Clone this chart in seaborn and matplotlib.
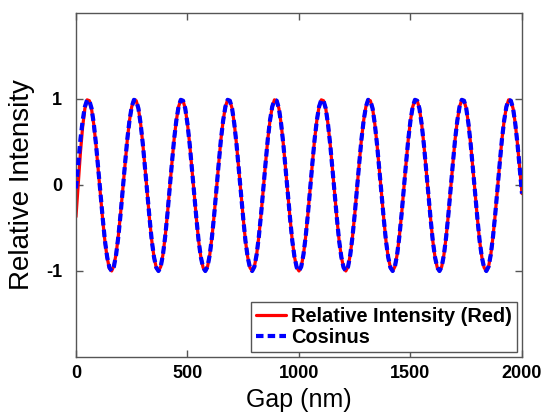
import matplotlib
matplotlib.use("Agg")
import matplotlib.pyplot as plt
import seaborn as sns
import pandas as pd
import numpy as np

# Gap values (nm), sampled every 10 nm
gap_nm = list(range(0, 2001, 10))

# Relative Intensity (Red)
red_intensity = [
    -0.37, 0.00, 0.38, 0.68, 0.89, 0.99, 0.98, 0.88, 0.70, 0.46, 0.17, -0.12, -0.41, -0.66, -0.85, -0.97, -1.00, -0.94, -0.80, -0.59, -0.33,
    -0.05, 0.24, 0.52, 0.75, 0.91, 0.99, 0.98, 0.89, 0.71, 0.47, 0.19, -0.11, -0.40, -0.65, -0.84, -0.96, -1.00, -0.95, -0.81, -0.60, -0.34,
    -0.04, 0.25, 0.53, 0.75, 0.91, 0.99, 0.98, 0.89, 0.71, 0.47, 0.19, -0.10, -0.39, -0.65, -0.84, -0.96, -1.00, -0.95, -0.81, -0.60, -0.34,
    -0.04, 0.25, 0.53, 0.75, 0.91, 0.99, 0.98, 0.89, 0.71, 0.47, 0.19, -0.10, -0.39, -0.65, -0.84, -0.96, -1.00, -0.95, -0.81, -0.60, -0.34,
    -0.04, 0.25, 0.53, 0.75, 0.91, 0.99, 0.98, 0.89, 0.71, 0.47, 0.19, -0.10, -0.39, -0.65, -0.84, -0.96, -1.00, -0.95, -0.81, -0.60, -0.34,
    -0.04, 0.25, 0.53, 0.75, 0.91, 0.99, 0.98, 0.89, 0.71, 0.47, 0.19, -0.10, -0.39, -0.65, -0.84, -0.96, -1.00, -0.95, -0.81, -0.60, -0.34,
    -0.04, 0.25, 0.53, 0.75, 0.91, 0.99, 0.98, 0.89, 0.71, 0.47, 0.19, -0.10, -0.39, -0.65, -0.84, -0.96, -1.00, -0.95, -0.81, -0.60, -0.34,
    -0.04, 0.25, 0.53, 0.75, 0.91, 0.99, 0.98, 0.89, 0.71, 0.47, 0.19, -0.10, -0.39, -0.65, -0.84, -0.96, -1.00, -0.95, -0.81, -0.60, -0.34,
    -0.04, 0.25, 0.53, 0.75, 0.91, 0.99, 0.98, 0.89, 0.71, 0.47, 0.19, -0.10, -0.39, -0.65, -0.84, -0.96, -1.00, -0.95, -0.81, -0.60, -0.34,
    -0.04, 0.25, 0.53, 0.75, 0.91, 0.99, 0.98, 0.89, 0.71, 0.47, 0.19, -0.10,
]

# Cosinus
cosinus = [
    -0.04, 0.25, 0.53, 0.75, 0.91, 0.99, 0.98, 0.89, 0.71, 0.47, 0.19, -0.10, -0.39, -0.65, -0.84, -0.96, -1.00, -0.95, -0.81, -0.60, -0.34,
    -0.04, 0.25, 0.53, 0.75, 0.91, 0.99, 0.98, 0.89, 0.71, 0.47, 0.19, -0.10, -0.39, -0.65, -0.84, -0.96, -1.00, -0.95, -0.81, -0.60, -0.34,
    -0.04, 0.25, 0.53, 0.75, 0.91, 0.99, 0.98, 0.89, 0.71, 0.47, 0.19, -0.10, -0.39, -0.65, -0.84, -0.96, -1.00, -0.95, -0.81, -0.60, -0.34,
    -0.04, 0.25, 0.53, 0.75, 0.91, 0.99, 0.98, 0.89, 0.71, 0.47, 0.19, -0.10, -0.39, -0.65, -0.84, -0.96, -1.00, -0.95, -0.81, -0.60, -0.34,
    -0.04, 0.25, 0.53, 0.75, 0.91, 0.99, 0.98, 0.89, 0.71, 0.47, 0.19, -0.10, -0.39, -0.65, -0.84, -0.96, -1.00, -0.95, -0.81, -0.60, -0.34,
    -0.04, 0.25, 0.53, 0.75, 0.91, 0.99, 0.98, 0.89, 0.71, 0.47, 0.19, -0.10, -0.39, -0.65, -0.84, -0.96, -1.00, -0.95, -0.81, -0.60, -0.34,
    -0.04, 0.25, 0.53, 0.75, 0.91, 0.99, 0.98, 0.89, 0.71, 0.47, 0.19, -0.10, -0.39, -0.65, -0.84, -0.96, -1.00, -0.95, -0.81, -0.60, -0.34,
    -0.04, 0.25, 0.53, 0.75, 0.91, 0.99, 0.98, 0.89, 0.71, 0.47, 0.19, -0.10, -0.39, -0.65, -0.84, -0.96, -1.00, -0.95, -0.81, -0.60, -0.34,
    -0.04, 0.25, 0.53, 0.75, 0.91, 0.99, 0.98, 0.89, 0.71, 0.47, 0.19, -0.10, -0.39, -0.65, -0.84, -0.96, -1.00, -0.95, -0.81, -0.60, -0.34,
    -0.04, 0.25, 0.53, 0.75, 0.91, 0.99, 0.98, 0.89, 0.71, 0.47, 0.19, -0.10,
]

x_ticks = [0, 500, 1000, 1500, 2000]
y_ticks = [-1, 0, 1]
series_names = ["Relative Intensity (Red)", "Cosinus"]

sns.set_theme(style="white")
plt.rcParams["font.family"] = ["Liberation Sans", "DejaVu Sans"]
plt.rcParams["text.color"] = "black"
plt.rcParams["axes.labelcolor"] = "black"
plt.rcParams["xtick.color"] = "black"
plt.rcParams["ytick.color"] = "black"

df = pd.DataFrame({"gap": gap_nm, series_names[0]: red_intensity, series_names[1]: cosinus})

fig = plt.figure(figsize=(5.45, 4.15), dpi=100)
ax = fig.add_axes([0.1394, 0.1398, 0.8184, 0.8289])

sns.lineplot(data=df, x="gap", y=series_names[0], ax=ax, color="#ff0000",
             linewidth=2.3, label=series_names[0], zorder=2)
sns.lineplot(data=df, x="gap", y=series_names[1], ax=ax, color="#0000ff",
             linewidth=3.0, linestyle=(0, (1.8, 1.0)), label=series_names[1], zorder=3)

ax.set_xlim(0, 2000)
ax.set_ylim(-2, 2)
ax.set_xticks(x_ticks)
ax.set_yticks(y_ticks)
ax.set_xticklabels([str(t) for t in x_ticks], fontweight="bold", fontsize=13, color="black")
ax.set_yticklabels([str(t) for t in y_ticks], fontweight="bold", fontsize=13, color="black")
ax.set_xlabel("Gap (nm)", fontsize=18, labelpad=4, color="black")
ax.set_ylabel("Relative Intensity", fontsize=20, labelpad=8, color="black")

ax.tick_params(axis="both", direction="in", length=5, width=1, color="#555555",
               top=True, right=True, bottom=True, left=True)
ax.tick_params(axis="x", pad=6)
ax.tick_params(axis="y", pad=10)
for sp in ax.spines.values():
    sp.set_color("#555555")
    sp.set_linewidth(1.0)

leg = ax.legend(loc="lower right", frameon=True, fancybox=False, framealpha=1,
                edgecolor="#555555", prop={"weight": "bold", "size": 14.4},
                handlelength=1.5, handletextpad=0.25, borderpad=0.25,
                labelspacing=0.1, borderaxespad=0.25)
leg.get_frame().set_linewidth(1.0)
for t in leg.get_texts():
    t.set_color("black")

fig.savefig("out.png", dpi=100)
